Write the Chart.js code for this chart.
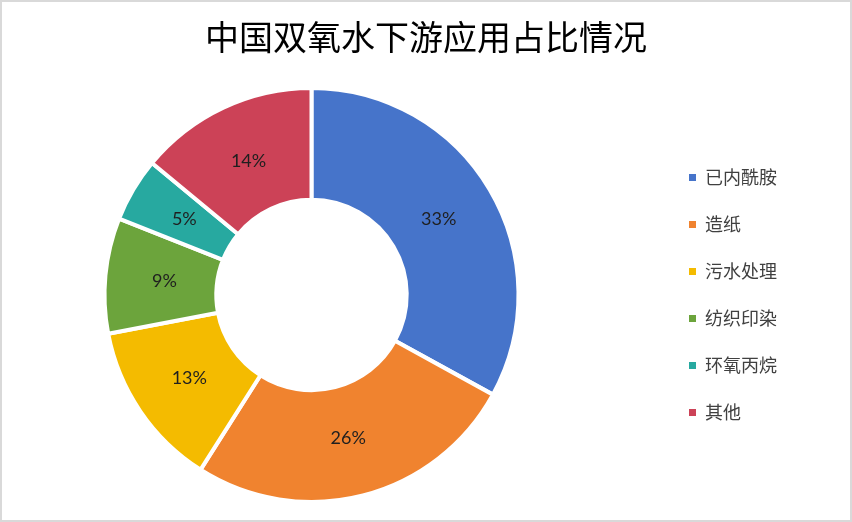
<!DOCTYPE html>
<html lang="zh">
<head>
<meta charset="utf-8">
<title>中国双氧水下游应用占比情况</title>
<script src="https://cdn.jsdelivr.net/npm/chart.js@4/dist/chart.umd.min.js"></script>
<style>
    html, body { margin: 0; padding: 0; background: #fff; }
    .frame {
        width: 852px; height: 522px;
        box-sizing: border-box;
        border: 2px solid #d9d9d9;
        background: #fff;
    }
    .box { position: relative; width: 848px; height: 518px; }
</style>
</head>
<body>
<div class="frame">
    <div class="box"><canvas id="shareChart"></canvas></div>
</div>
<script>
// ── Data ──
const categories = ['已内酰胺', '造纸', '污水处理', '纺织印染', '环氧丙烷', '其他'];
const shares = [33, 26, 13, 9, 5, 14];
const sliceColors = ['#4674CA', '#F0832F', '#F4BB00', '#6CA43C', '#27A9A0', '#CC4257'];

const CJK = "'Noto Sans CJK SC', 'Noto Sans', sans-serif";

// empty layout box, used to push the legend away from the doughnut
function makeSpacer(width, weight) {
    return {
        position: 'right', weight, fullSize: false, options: {},
        left: 0, top: 0, right: 0, bottom: 0, width: 0, height: 0,
        isHorizontal() { return false; },
        update(maxWidth, maxHeight) { this.width = width; this.height = maxHeight; },
        draw() {}
    };
}

const legendGap = {
    id: 'legendGap',
    beforeInit(chart) {
        Chart.layouts.addBox(chart, makeSpacer(39, 500));   // between ring and legend
        Chart.layouts.addBox(chart, makeSpacer(63, 1500));  // right of the legend
    }
};

// percent labels in the middle of each slice
const sliceLabels = {
    id: 'sliceLabels',
    afterDatasetsDraw(chart) {
        const ctx = chart.ctx;
        const meta = chart.getDatasetMeta(0);
        ctx.save();
        ctx.font = "18px Lato, 'Open Sans', sans-serif";
        ctx.fillStyle = '#1f1f1f';
        ctx.textAlign = 'center';
        ctx.textBaseline = 'middle';
        meta.data.forEach((arc, i) => {
            const p = arc.getProps(['x', 'y', 'startAngle', 'endAngle', 'innerRadius', 'outerRadius'], true);
            const mid = (p.startAngle + p.endAngle) / 2;
            const r = p.innerRadius + (p.outerRadius - p.innerRadius) * 0.47;
            ctx.fillText(shares[i] + '%', p.x + Math.cos(mid) * r, p.y + Math.sin(mid) * r);
        });
        ctx.restore();
    }
};

const baseLabels = Chart.overrides.doughnut.plugins.legend.labels.generateLabels;

new Chart(document.getElementById('shareChart').getContext('2d'), {
    type: 'doughnut',
    data: {
        labels: categories,
        datasets: [{
            data: shares,
            backgroundColor: sliceColors,
            borderColor: '#ffffff',
            borderWidth: 4
        }]
    },
    options: {
        responsive: true,
        maintainAspectRatio: false,
        animation: false,
        radius: 207,
        cutout: '46%',
        layout: { padding: { top: 0, right: 0, bottom: 10, left: 0 } },
        plugins: {
            title: {
                display: true,
                text: '中国双氧水下游应用占比情况',
                color: '#000',
                font: { family: CJK, size: 34, weight: 'normal' },
                padding: { top: 15, bottom: 22 }
            },
            legend: {
                display: true,
                position: 'right',
                fullSize: false,
                labels: {
                    color: '#404040',
                    boxWidth: 7,
                    boxHeight: 7,
                    padding: 29,
                    font: { family: CJK, size: 18 },
                    generateLabels: chart => baseLabels(chart).map(l => ({ ...l, lineWidth: 0 }))
                }
            },
            tooltip: { enabled: false }
        }
    },
    plugins: [legendGap, sliceLabels]
});
</script>
</body>
</html>
